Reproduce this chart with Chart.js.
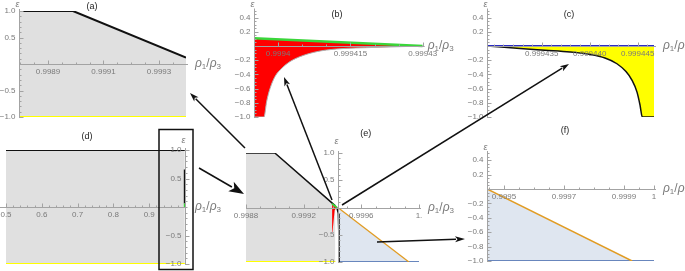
<!DOCTYPE html>
<html>
<head>
<meta charset="utf-8">
<script src="https://cdn.jsdelivr.net/npm/chart.js@4.4.1/dist/chart.umd.min.js"></script>
<style>
  html, body { margin: 0; padding: 0; background: #fff; }
  #wrap { position: relative; width: 685px; height: 271px; overflow: hidden; }
  #wrap canvas { position: absolute; left: 0; top: 0; }
</style>
</head>
<body>
<div id="wrap">
  <canvas id="pa" width="685" height="271"></canvas>
  <canvas id="pb" width="685" height="271"></canvas>
  <canvas id="pc" width="685" height="271"></canvas>
  <canvas id="pd" width="685" height="271"></canvas>
  <canvas id="pe" width="685" height="271"></canvas>
  <canvas id="pf" width="685" height="271"></canvas>
  <canvas id="arrows" width="685" height="271"></canvas>
</div>
<script>
// ---- data (x = rho1/rho3, y = epsilon) ----

// (a) upper boundary of the grey region
const aRho = [0.9987955, 0.99899, 0.9993973];
const aEps = [1, 1, 0.12];
const aBaseRho = [0.9987955, 0.9993973];
const aBaseEps = [-1, -1];

// (b) red region: straight upper edge and curved lower edge
const bTopRho = [0.999395, 0.99943];
const bTopEps = [0.11, 0];
const bBotRho = [0.999395, 0.99939707, 0.99939763, 0.99939832, 0.99939936, 0.99940075,
                 0.99940247, 0.99940454, 0.99940801, 0.99941216, 0.9994201, 0.99943];
const bBotEps = [-1, -1, -0.78, -0.6, -0.43, -0.315, -0.22, -0.15, -0.08, -0.042, -0.02, 0];

// (c) yellow region between eps = 0 and the black curve
const cTopRho = [0.9994293, 0.9994467];
const cTopEps = [0, 0];
const cCurveRho = [0.9994293, 0.99943274, 0.99943534, 0.99943795, 0.99944003, 0.99944159, 0.99944284,
                   0.99944378, 0.9994444, 0.99944493, 0.99944524, 0.99944548, 0.9994467];
const cCurveEps = [0, -0.035, -0.06, -0.085, -0.12, -0.17, -0.25, -0.36, -0.48, -0.65, -0.83, -1, -1];

// (d) full range
const dTopRho = [0.5, 0.99944];
const dTopEps = [1, 1];
const dBaseRho = [0.5, 0.99944];
const dBaseEps = [-1, -1];
const dDropRho = [0.99944, 0.99944];
const dDropEps = [0.66, 0.06];
const dGreenRho = [0.99944, 0.99944];
const dGreenEps = [0.06, 0];

// (e) overview near rho1/rho3 = 1
const eTopRho = [0.9988, 0.999, 0.99942];
const eTopEps = [1, 1, 0.03];
const eBaseRho = [0.9988, 0.99942];
const eBaseEps = [-1, -1];
const eRedTopRho = [0.999397, 0.99943];
const eRedTopEps = [0.07, 0];
const eRedBotRho = [0.999397, 0.9994, 0.999415, 0.99943];
const eRedBotEps = [-0.45, -0.45, -0.05, 0];
const eDropRho = [0.99943, 0.99944, 0.999445, 0.999446];
const eDropEps = [0, -0.1, -0.6, -1];
const eOrangeRho = [0.999446, 0.99993];
const eOrangeEps = [-0.02, -1];
const eBlueRho = [0.999446, 1.0];
const eBlueEps = [-1, -1];

// (f) zoom on the lower-right region
const fOrangeRho = [0.99944333, 0.999927];
const fOrangeEps = [0, -1];
const fBlueRho = [0.99944333, 1.0];
const fBlueEps = [-1, -1];

// tick labels
const aXTicks = [0.9989, 0.9991, 0.9993];
const aXLabels = ['0.9989', '0.9991', '0.9993'];
const bXTicks = [0.9994, 0.999415, 0.99943];
const bXLabels = ['0.9994', '0.999415', '0.99943'];
const cXTicks = [0.999435, 0.99944, 0.999445];
const cXLabels = ['0.999435', '0.999440', '0.999445'];
const dXTicks = [0.5, 0.6, 0.7, 0.8, 0.9];
const dXLabels = ['0.5', '0.6', '0.7', '0.8', '0.9'];
const eXTicks = [0.9988, 0.9992, 0.9996, 1];
const eXLabels = ['0.9988', '0.9992', '0.9996', '1.'];
const fXTicks = [0.9995, 0.9997, 0.9999, 1];
const fXLabels = ['0.9995', '0.9997', '0.9999', '1'];
const halfTicks = [1, 0.5, -0.5, -1];
const halfLabels = ['1.0', '0.5', '\u22120.5', '\u22121.0'];
const fifthTicks = [0.4, 0.2, -0.2, -0.4, -0.6, -0.8, -1];
const fifthLabels = ['0.4', '0.2', '\u22120.2', '\u22120.4', '\u22120.6', '\u22120.8', '\u22121.0'];

// ---- styles ----
const W = 685, H = 271;
const AXIS = '#a3a3a3', TICKTXT = '#7a7a7a';
const GREY = '#e0e0e0', YELLOW = '#ffff00', RED = '#ff0000', GREEN = '#3ad63a';
const NAVY = '#2b2bc4', ORANGE = '#e19c24', BLUE = '#6886bd', BLUEFILL = 'rgba(94,129,181,0.2)';
const FONT = '"Liberation Sans", Arial, sans-serif';

function ds(xs, ys, extra) {
  return Object.assign({
    data: xs.map((v, i) => ({ x: v, y: ys[i] })),
    pointRadius: 0, borderWidth: 1.5, fill: false, tension: 0
  }, extra);
}

function crisp(v) { return Math.round(v) + 0.5; }

// Mathematica-like axes crossing inside the frame
const mathAxes = {
  id: 'mathAxes',
  afterDatasetsDraw(chart, _args, o) {
    const { ctx, chartArea: ca } = chart;
    const sx = chart.scales.x, sy = chart.scales.y;
    const ay = crisp(sy.getPixelForValue(o.xAxisAt));
    const ax = crisp(sx.getPixelForValue(o.yAxisAt));
    ctx.save();
    ctx.strokeStyle = AXIS;
    ctx.fillStyle = TICKTXT;
    ctx.lineWidth = 1;

    // horizontal axis
    const xl = ca.left - (o.xPadL || 0), xr = ca.right + 2;
    ctx.beginPath(); ctx.moveTo(xl, ay); ctx.lineTo(xr, ay); ctx.stroke();
    ctx.beginPath();
    for (let k = Math.ceil(sx.min / o.xMinor - 1e-6); k * o.xMinor <= sx.max + 1e-9; k++) {
      const px = crisp(sx.getPixelForValue(k * o.xMinor));
      ctx.moveTo(px, ay); ctx.lineTo(px, ay - 2);
    }
    o.xTicks.forEach(v => {
      const px = crisp(sx.getPixelForValue(v));
      ctx.moveTo(px, ay); ctx.lineTo(px, ay - 4);
    });
    ctx.stroke();
    ctx.font = '8px ' + FONT;
    ctx.textAlign = 'center'; ctx.textBaseline = 'top';
    o.xTicks.forEach((v, i) => ctx.fillText(o.xLabels[i], sx.getPixelForValue(v), ay + 3));

    // vertical axis
    const yt = ca.top - 2, yb = ca.bottom + 1;
    ctx.beginPath(); ctx.moveTo(ax, yt); ctx.lineTo(ax, yb); ctx.stroke();
    ctx.beginPath();
    for (let k = Math.ceil(sy.min / o.yMinor - 1e-6); k * o.yMinor <= sy.max + 1e-9; k++) {
      const py = crisp(sy.getPixelForValue(k * o.yMinor));
      ctx.moveTo(ax, py); ctx.lineTo(ax + 2, py);
    }
    o.yTicks.forEach(v => {
      const py = crisp(sy.getPixelForValue(v));
      ctx.moveTo(ax, py); ctx.lineTo(ax + 4, py);
    });
    ctx.stroke();
    ctx.textAlign = 'right'; ctx.textBaseline = 'middle';
    o.yTicks.forEach((v, i) => ctx.fillText(o.yLabels[i], ax - 4, sy.getPixelForValue(v)));

    // axis names
    ctx.font = 'italic 9px ' + FONT;
    ctx.textAlign = 'center'; ctx.textBaseline = 'middle';
    ctx.fillText('\u03b5', ax - 2, ca.top - o.epsUp);
    let cx = xr + (o.rhoDx == null ? 7 : o.rhoDx);
    const by = ay + 2.5;
    ctx.textAlign = 'left'; ctx.textBaseline = 'alphabetic';
    const part = (t, f, dy) => { ctx.font = f; ctx.fillText(t, cx, by + dy); cx += ctx.measureText(t).width; };
    part('\u03c1', 'italic 12px ' + FONT, 0);
    part('1', '8px ' + FONT, 2);
    part('/', '12px ' + FONT, 0);
    part('\u03c1', 'italic 12px ' + FONT, 0);
    part('3', '8px ' + FONT, 2);

    // panel tag
    ctx.fillStyle = '#222';
    ctx.font = '9px ' + FONT;
    ctx.textAlign = 'center'; ctx.textBaseline = 'middle';
    ctx.fillText(o.tag[0], sx.getPixelForValue(o.tag[1]), sy.getPixelForValue(o.tag[2]));
    ctx.restore();
  }
};

function panel(id, area, xr, yr, datasets, axes) {
  return new Chart(document.getElementById(id), {
    type: 'line',
    data: { datasets },
    options: {
      responsive: false, animation: false, devicePixelRatio: 1, events: [],
      layout: { autoPadding: false,
        padding: { left: area[0], top: area[1], right: W - area[2], bottom: H - area[3] } },
      scales: {
        x: { type: 'linear', min: xr[0], max: xr[1], display: false },
        y: { type: 'linear', min: yr[0], max: yr[1], display: false }
      },
      plugins: {
        legend: { display: false }, tooltip: { enabled: false },
        filler: { drawTime: 'beforeDatasetsDraw' },
        mathAxes: axes
      }
    },
    plugins: [mathAxes]
  });
}

panel('pa', [19, 11, 186, 117], [0.9987955, 0.9993973], [-1, 1], [
  ds(aBaseRho, aBaseEps, { borderColor: YELLOW, borderWidth: 2 }),
  ds(aRho, aEps, { borderColor: '#111', borderWidth: 2, fill: { value: -1 }, backgroundColor: GREY })
], { xAxisAt: 0, yAxisAt: 0.9987955, xTicks: aXTicks, xLabels: aXLabels, yTicks: halfTicks, yLabels: halfLabels,
     xMinor: 0.00005, yMinor: 0.1, epsUp: 7, tag: ['(a)', 0.999059, 1.094] });

panel('pb', [254, 10.5, 422.7, 117], [0.999395, 0.99943], [-1, 0.5], [
  ds(bTopRho, bTopEps, { borderColor: GREEN, borderWidth: 2.5, fill: '+1', backgroundColor: RED }),
  ds(bBotRho, bBotEps, { borderColor: '#b0b0b0', borderWidth: 1, cubicInterpolationMode: 'monotone' })
], { xAxisAt: 0, yAxisAt: 0.999395, xTicks: bXTicks, xLabels: bXLabels, yTicks: fifthTicks, yLabels: fifthLabels,
     xMinor: 0.000005, yMinor: 0.05, epsUp: 6.5, rhoDx: 3, tag: ['(b)', 0.99941222, 0.437] });

panel('pc', [487, 10.5, 654, 117], [0.9994293, 0.9994467], [-1, 0.5], [
  ds(cTopRho, cTopEps, { borderColor: NAVY, borderWidth: 2, fill: '+1', backgroundColor: YELLOW }),
  ds(cCurveRho, cCurveEps, { borderColor: '#111', borderWidth: 1.5, cubicInterpolationMode: 'monotone' })
], { xAxisAt: 0, yAxisAt: 0.9994293, xTicks: cXTicks, xLabels: cXLabels, yTicks: fifthTicks, yLabels: fifthLabels,
     xMinor: 0.000001, yMinor: 0.05, epsUp: 6.5, tag: ['(c)', 0.99943784, 0.437] });

panel('pd', [6, 150, 185, 264], [0.5, 1.0], [-1, 1], [
  ds(dGreenRho, dGreenEps, { borderColor: GREEN, borderWidth: 2 }),
  ds(dDropRho, dDropEps, { borderColor: '#111', borderWidth: 2 }),
  ds(dBaseRho, dBaseEps, { borderColor: YELLOW, borderWidth: 2 }),
  ds(dTopRho, dTopEps, { borderColor: '#111', borderWidth: 2, fill: { value: -1 }, backgroundColor: GREY })
], { xAxisAt: 0, yAxisAt: 1.0, xTicks: dXTicks, xLabels: dXLabels, yTicks: halfTicks, yLabels: halfLabels,
     xMinor: 0.02, yMinor: 0.1, xPadL: 6, epsUp: 10, rhoDx: 8, tag: ['(d)', 0.7263, 1.228] });

panel('pe', [246, 153, 419, 262], [0.9988, 1.0], [-1, 1], [
  ds(eRedTopRho, eRedTopEps, { borderColor: GREEN, borderWidth: 2, fill: '+1', backgroundColor: RED }),
  ds(eRedBotRho, eRedBotEps, { borderWidth: 0 }),
  ds(eDropRho, eDropEps, { borderColor: '#111', borderWidth: 1.5 }),
  ds(eTopRho, eTopEps, { borderColor: '#111', borderWidth: 1.5, fill: { value: -1 }, backgroundColor: GREY }),
  ds(eBaseRho, eBaseEps, { borderColor: YELLOW, borderWidth: 2 }),
  ds(eOrangeRho, eOrangeEps, { borderColor: ORANGE, borderWidth: 1.3, fill: { value: -1 }, backgroundColor: BLUEFILL }),
  ds(eBlueRho, eBlueEps, { borderColor: BLUE, borderWidth: 2 })
], { xAxisAt: 0, yAxisAt: 0.99944, xTicks: eXTicks, xLabels: eXLabels, yTicks: halfTicks, yLabels: halfLabels,
     xMinor: 0.0001, yMinor: 0.1, epsUp: 12, tag: ['(e)', 0.99963, 1.35] });

panel('pf', [487, 153, 654, 261], [0.99944333, 1.0], [-1, 0.5], [
  ds(fOrangeRho, fOrangeEps, { borderColor: ORANGE, borderWidth: 1.5, fill: { value: -1 }, backgroundColor: BLUEFILL }),
  ds(fBlueRho, fBlueEps, { borderColor: BLUE, borderWidth: 2 })
], { xAxisAt: 0, yAxisAt: 0.99944333, xTicks: fXTicks, xLabels: fXLabels, yTicks: fifthTicks, yLabels: fifthLabels,
     xMinor: 0.00005, yMinor: 0.05, epsUp: 6, tag: ['(f)', 0.9997033, 0.806] });

// ---- zoom arrows and the highlight box (annotation layer) ----
const g = document.getElementById('arrows').getContext('2d');
function arrow(x1, y1, x2, y2, len, wid) {
  const a = Math.atan2(y2 - y1, x2 - x1);
  const bx = x2 - len * Math.cos(a), by = y2 - len * Math.sin(a);
  g.beginPath(); g.moveTo(x1, y1); g.lineTo(bx + 1 * Math.cos(a), by + 1 * Math.sin(a)); g.stroke();
  g.beginPath(); g.moveTo(x2, y2);
  g.lineTo(bx + wid / 2 * Math.sin(a), by - wid / 2 * Math.cos(a));
  g.lineTo(bx + len * 0.25 * Math.cos(a), by + len * 0.25 * Math.sin(a));
  g.lineTo(bx - wid / 2 * Math.sin(a), by + wid / 2 * Math.cos(a));
  g.closePath(); g.fill();
}
g.strokeStyle = '#111'; g.fillStyle = '#111'; g.lineWidth = 1.5;
arrow(245, 148, 190, 93, 9, 6);
arrow(332, 200, 284, 77, 9, 6);
arrow(342, 205, 569, 64, 9, 6);
arrow(199, 168, 244, 194, 15, 11);
arrow(377, 242, 465, 239, 10, 6);
g.lineWidth = 1.5;
g.strokeRect(159, 129.5, 34, 140);
</script>
</body>
</html>
